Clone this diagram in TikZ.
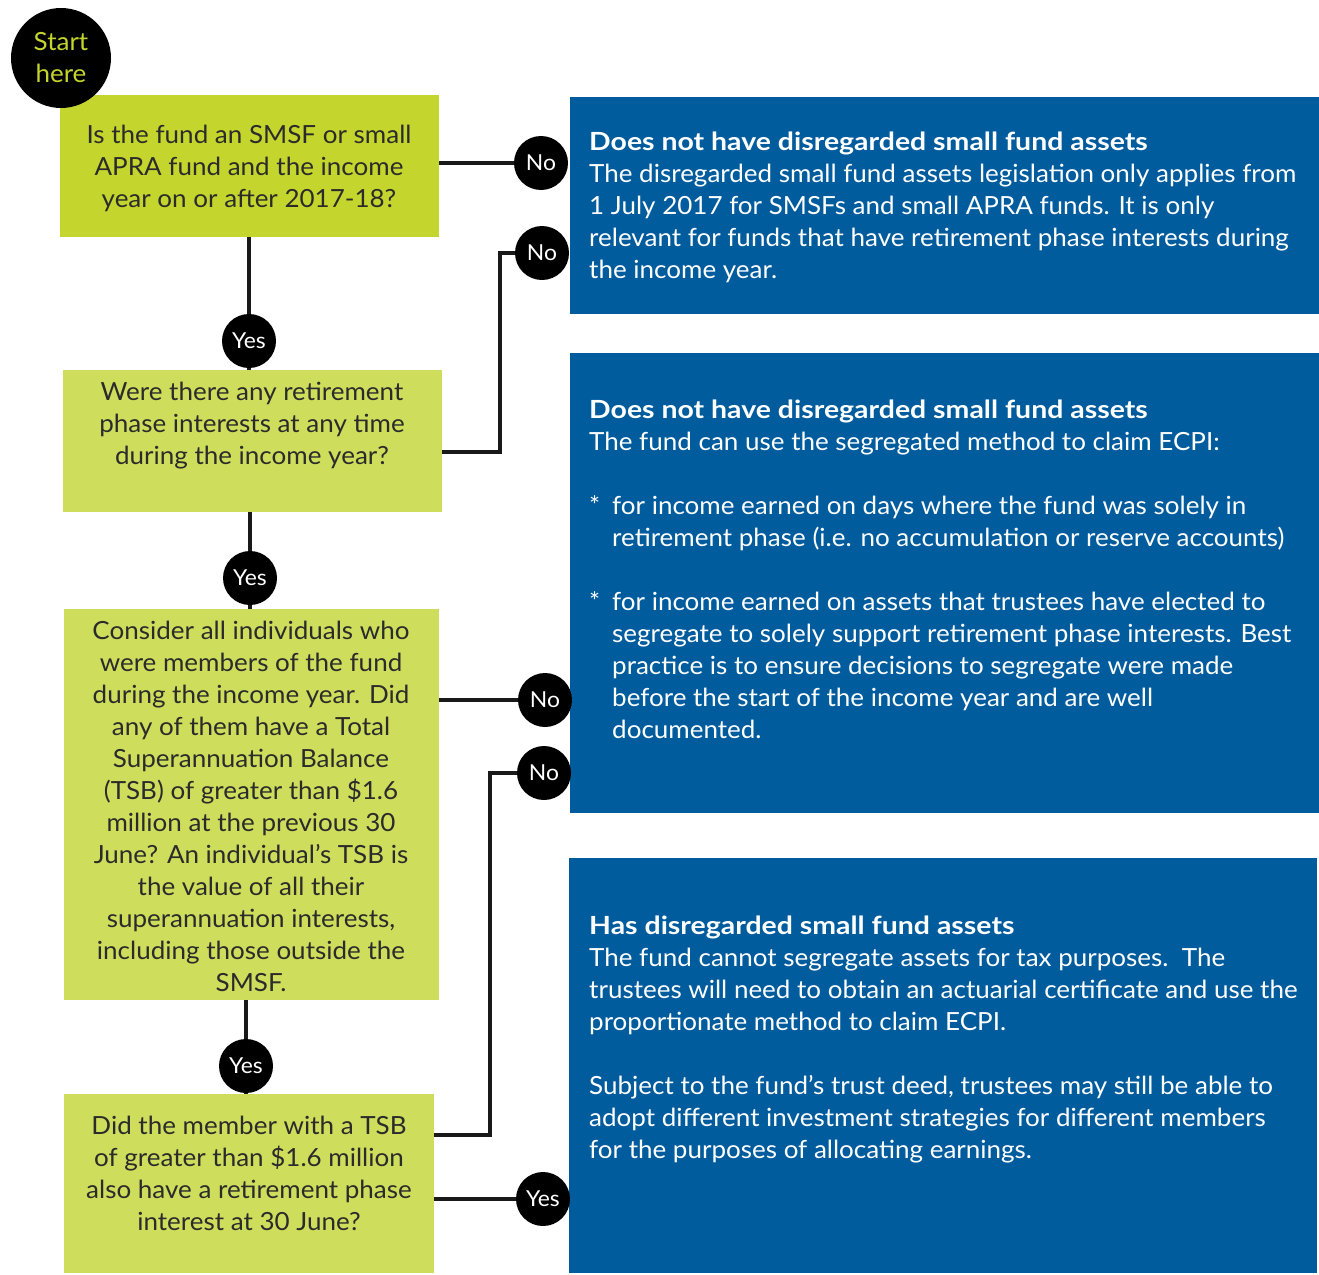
\documentclass[tikz,border=0pt]{standalone}
\usepackage{fontspec}
\setmainfont{Lato}[FakeStretch=1.04]
\newfontfamily\titlefont{Lato}[FakeStretch=1.137]
\definecolor{limeA}{HTML}{C4D52D}
\definecolor{limeB}{HTML}{CEDD5B}
\definecolor{atoblue}{HTML}{005C9D}
\definecolor{darktext}{HTML}{2B2B2B}
\newcommand{\boxtitle}[1]{{\titlefont\bfseries #1}}
\begin{document}
\begin{tikzpicture}[x=1pt,y=-1pt,
  qbox/.style={draw=none,inner sep=0,outer sep=0,anchor=north west},
  bbox/.style={fill=atoblue,draw=none,inner sep=0,outer sep=0,anchor=north west},
  qtext/.style={text=darktext,align=center,inner sep=0,font=\fontsize{25}{32}\selectfont},
  btext/.style={text=white,align=left,inner sep=0,anchor=west,font=\fontsize{25}{32}\selectfont},
  dot/.style={circle,fill=black,minimum size=54pt,inner sep=0,text=white,font=\fontsize{22}{26}\selectfont},
  link/.style={line width=3.5pt,draw=black!90}]
\useasboundingbox (0,0) rectangle (1319,1274);
% question boxes
\node[qbox,fill=limeA,minimum width=379pt,minimum height=142pt] (q1) at (60,95) {};
\node[qbox,fill=limeB,minimum width=379pt,minimum height=142pt] (q2) at (63,370) {};
\node[qbox,fill=limeB,minimum width=375pt,minimum height=391pt] (q3) at (64,609) {};
\node[qbox,fill=limeB,minimum width=370pt,minimum height=179pt] (q4) at (64,1094) {};
% answer boxes
\node[bbox,minimum width=749pt,minimum height=217pt] (a1) at (570,97) {};
\node[bbox,minimum width=749pt,minimum height=460pt] (a2) at (570,353) {};
\node[bbox,minimum width=748pt,minimum height=415pt] (a3) at (569,858) {};
% start
\node[circle,fill=black,minimum size=100pt,inner sep=0,align=center,text=limeA,font=\fontsize{25}{32}\selectfont] (start) at (61,58) {Start\\here};
% question texts
\node[qtext] (t1) at (249,168) {Is the fund an SMSF or small\\APRA fund and the income\\year on or after 2017-18?};
\node[qtext] (t2) at (252,426) {Were there any retirement\\phase interests at any time\\during the income year?};
\node[qtext] (t3) at (251,806) {Consider all individuals who\\were members of the fund\\during the income year. Did\\any of them have a Total\\Superannuation Balance\\(TSB) of greater than \$1.6\\million at the previous 30\\June? An individual’s TSB is\\the value of all their\\superannuation interests,\\including those outside the\\SMSF.};
\node[qtext] (t4) at (249,1173) {Did the member with a TSB\\of greater than \$1.6 million\\also have a retirement phase\\interest at 30 June?};
% answer texts
\node[btext] (b1) at (589,207) {\boxtitle{Does not have disregarded small fund assets}\\The disregarded small fund assets legislation only applies from\\1 July 2017 for SMSFs and small APRA funds. It is only\\relevant for funds that have retirement phase interests during\\the income year.};
\node[btext] (b2) at (589,569) {\boxtitle{Does not have disregarded small fund assets}\\The fund can use the segregated method to claim ECPI:\\[32pt]
\makebox[23pt][l]{*}for income earned on days where the fund was solely in\\
\hspace*{23pt}retirement phase (i.e. no accumulation or reserve accounts)\\[32pt]
\makebox[23pt][l]{*}for income earned on assets that trustees have elected to\\
\hspace*{23pt}segregate to solely support retirement phase interests. Best\\
\hspace*{23pt}practice is to ensure decisions to segregate were made\\
\hspace*{23pt}before the start of the income year and are well\\
\hspace*{23pt}documented.};
\node[btext] (b3) at (589,1039) {\boxtitle{Has disregarded small fund assets}\\The fund cannot segregate assets for tax purposes.\ \ The\\trustees will need to obtain an actuarial certificate and use the\\proportionate method to claim ECPI.\\[32pt]
Subject to the fund’s trust deed, trustees may still be able to\\adopt different investment strategies for different members\\for the purposes of allocating earnings.};
% decision dots
\node[dot] (no1) at (541,163) {No};
\node[dot] (no2) at (542,253) {No};
\node[dot] (yes1) at (249,341) {Yes};
\node[dot] (yes2) at (250,578) {Yes};
\node[dot] (no3) at (545,700) {No};
\node[dot] (no4) at (544,773) {No};
\node[dot] (yes3) at (246,1066) {Yes};
\node[dot] (yes4) at (543,1199) {Yes};
% connectors
\draw[link] (q1.east |- no1) -- (no1);
\draw[link] (yes1 |- q1.south) -- (yes1);
\draw[link] (yes1) -- (yes1 |- q2.north);
\coordinate (c2) at (500,452);
\draw[link] (q2.east |- c2) -- (c2) |- (no2);
\draw[link] (yes2 |- q2.south) -- (yes2);
\draw[link] (yes2) -- (yes2 |- q3.north);
\draw[link] (q3.east |- no3) -- (no3);
\draw[link] (yes3 |- q3.south) -- (yes3);
\draw[link] (yes3) -- (yes3 |- q4.north);
\coordinate (c4) at (490,1135);
\draw[link] (q4.east |- c4) -- (c4) |- (no4);
\draw[link] (q4.east |- yes4) -- (yes4);
\end{tikzpicture}
\end{document}
